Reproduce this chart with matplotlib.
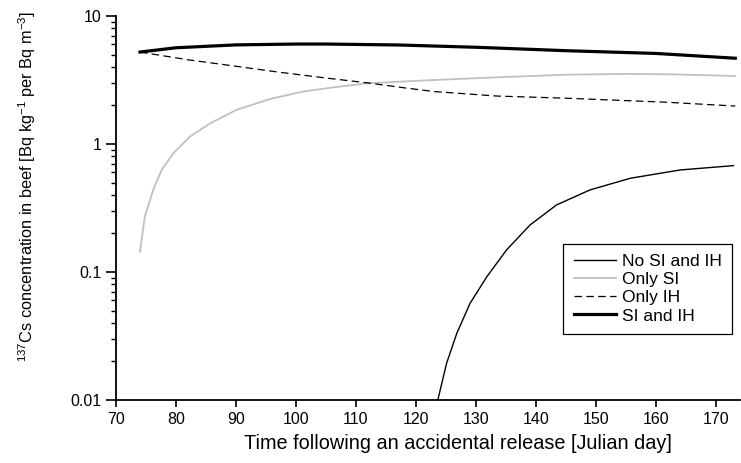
import numpy as np
import matplotlib
matplotlib.use("Agg")
import matplotlib.pyplot as plt
from matplotlib.ticker import LogLocator, NullFormatter, FixedLocator

plt.rcParams['font.family'] = ['Liberation Sans', 'DejaVu Sans']
plt.rcParams['mathtext.fontset'] = 'custom'
plt.rcParams['mathtext.rm'] = 'Liberation Sans'

# valeurs (jour julien, Bq/kg par Bq/m3)
jours_sans = [123.5, 123.7, 125.1, 126.8, 129.0, 131.8, 135.1, 139.0, 143.4, 149.0, 155.7, 164.0, 172.9]
c_sans = [0.0095, 0.0103, 0.0194, 0.0332, 0.0569, 0.0918, 0.149, 0.233, 0.334, 0.438, 0.540, 0.627, 0.678]

jours_si = [74.0, 74.8, 76.2, 77.6, 79.55, 82.3, 85.7, 90.1, 95.7, 101.2, 105.7, 111.8, 117.3,
            122.8, 133.5, 145.0, 155.0, 163.0, 173.2]
c_si = [0.144, 0.270, 0.438, 0.626, 0.845, 1.14, 1.45, 1.85, 2.25, 2.57, 2.75, 2.98, 3.07,
        3.16, 3.32, 3.48, 3.53, 3.50, 3.40]

jours_ih = [74.0, 82.3, 89.5, 97.0, 105.7, 112.0, 118.0, 123.0, 133.5, 145.0, 161.8, 173.2]
c_ih = [5.23, 4.53, 4.08, 3.65, 3.25, 3.0, 2.75, 2.57, 2.37, 2.28, 2.12, 1.98]

jours_tot = [74.0, 80.0, 90.0, 100.0, 105.0, 117.0, 130.0, 145.0, 160.0, 173.2]
c_tot = [5.23, 5.65, 5.95, 6.04, 6.04, 5.94, 5.70, 5.36, 5.10, 4.68]

fig = plt.figure(figsize=(7.41, 4.63), dpi=100)
ax = fig.add_axes([0.1565, 0.136, 0.8422, 0.8294])

ax.plot(jours_sans, c_sans, color="black", lw=1.0, label="No SI and IH")
ax.plot(jours_si, c_si, color="#c0c0c0", lw=1.3, label="Only SI")
ax.plot(jours_ih, c_ih, color="black", lw=0.9, dashes=(6, 3.5), label="Only IH")
ax.plot(jours_tot, c_tot, color="black", lw=2.3, label="SI and IH")

ax.set_yscale("log")
ax.set_ylim(0.01, 10)
ax.set_xlim(70, 174)
ax.xaxis.set_major_locator(FixedLocator(np.arange(70, 171, 10)))
ax.yaxis.set_major_locator(LogLocator(base=10))
ax.yaxis.set_minor_locator(LogLocator(base=10, subs=np.arange(2, 10)))
ax.yaxis.set_minor_formatter(NullFormatter())
ax.set_yticks([0.01, 0.1, 1, 10])
ax.set_yticklabels(["0.01", "0.1", "1", "10"])

for s in ["top", "right"]:
    ax.spines[s].set_visible(False)
for s in ["left", "bottom"]:
    ax.spines[s].set_linewidth(1.3)

ax.tick_params(axis="y", which="major", direction="out", length=7, width=1.2, labelsize=11.5)
ax.tick_params(axis="y", which="minor", direction="out", length=3.5, width=1.0)
ax.tick_params(axis="x", which="major", direction="out", length=5, width=1.2, labelsize=11.5)

ax.set_xlabel("Time following an accidental release [Julian day]", fontsize=14.3)
ax.xaxis.set_label_coords(0.548, -0.088)
ax.set_ylabel(r"$^{137}$Cs concentration in beef [Bq kg$^{-1}$ per Bq m$^{-3}$]", fontsize=11.8)
ax.yaxis.set_label_coords(-0.125, 0.555)

leg = ax.legend(loc="lower right", bbox_to_anchor=(0.987, 0.172), fontsize=12.5,
                frameon=True, fancybox=False, edgecolor="black", framealpha=1,
                handlelength=2.45, handletextpad=0.3, labelspacing=0.17, borderpad=0.6,
                borderaxespad=0)
leg.get_frame().set_linewidth(0.9)

fig.savefig("out.png", dpi=100)
